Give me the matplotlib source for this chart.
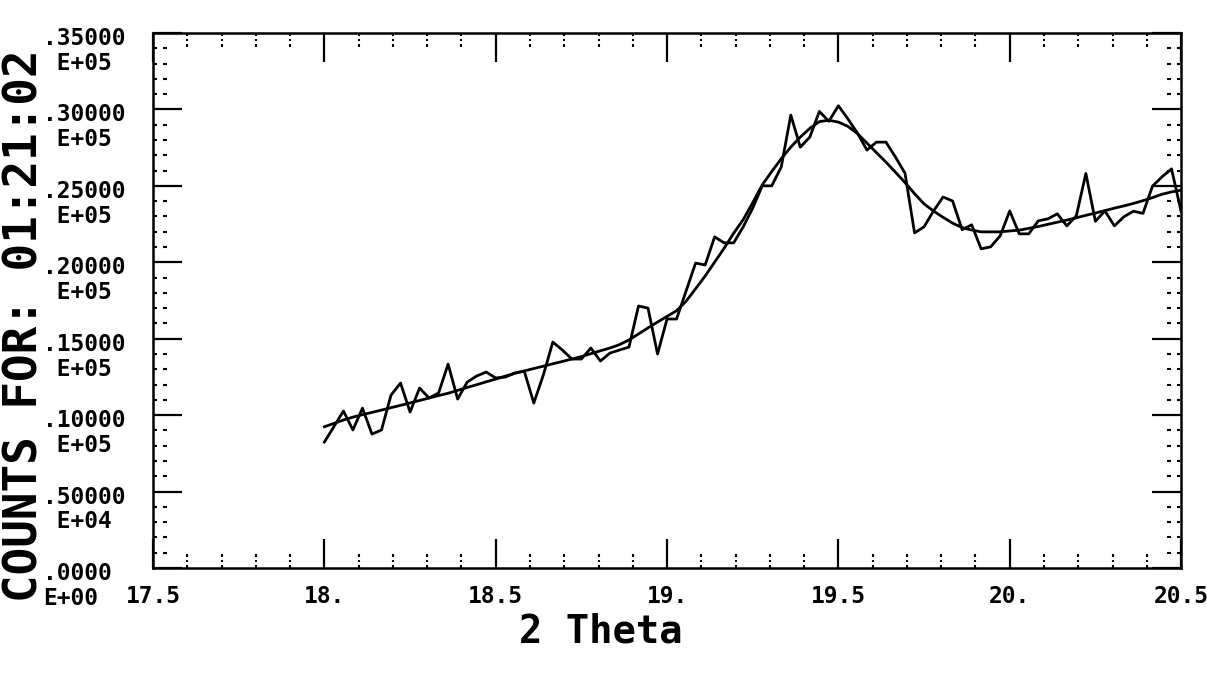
import numpy as np
import matplotlib
matplotlib.use("Agg")
import matplotlib.pyplot as plt
from matplotlib.path import Path
from matplotlib.ticker import FixedLocator, MultipleLocator
from matplotlib.transforms import ScaledTranslation

# scan grid, 18.0 -> 20.5 deg in 91 steps
two_theta = np.linspace(18.0, 20.5, 91)

# measured counts
counts = [8240, 9250, 10270, 9030, 10460, 8760, 9030, 11310, 12100, 10200,
          11770, 11120, 11450, 13340, 11050, 12160, 12560, 12820, 12430, 12490,
          12750, 12880, 10790, 12620, 14780, 14260, 13670, 13670, 14390, 13540,
          14060, 14260, 14450, 17140, 17000, 14000, 16290, 16290, 18120, 19950,
          19820, 21660, 21270, 21270, 22320, 23540, 25000, 25000, 26240, 29630,
          27530, 28190, 29870, 29220, 30240, 29380, 28450, 27340, 27860, 27860,
          26880, 25830, 21920, 22320, 23360, 24270, 24010, 22130, 22450, 20880,
          21010, 21730, 23360, 21860, 21860, 22710, 22840, 23170, 22380, 23040,
          25810, 22680, 23360, 22380, 22980, 23340, 23200, 24980, 25590, 26110,
          23340]

# fitted profile on the same grid
fit = [9240, 9460, 9680, 9870, 10030, 10180, 10330, 10490, 10640, 10800,
       10960, 11120, 11280, 11430, 11620, 11810, 11990, 12180, 12360, 12550,
       12740, 12890, 13050, 13200, 13360, 13510, 13670, 13830, 14020, 14210,
       14390, 14610, 14920, 15310, 15710, 16090, 16460, 16830, 17450, 18270,
       19100, 20010, 20920, 21900, 22790, 23900, 25060, 25940, 26780, 27530,
       28190, 28760, 29200, 29290, 29170, 28890, 28420, 27800, 27170, 26550,
       25890, 25210, 24490, 23820, 23350, 22940, 22560, 22270, 22110, 21990,
       21990, 21990, 22050, 22100, 22220, 22340, 22480, 22620, 22760, 22910,
       23070, 23220, 23380, 23540, 23690, 23850, 24030, 24230, 24450, 24600,
       24720]

x_ticks = [17.5, 18.0, 18.5, 19.0, 19.5, 20.0, 20.5]
x_labels = ["17.5", "18.", "18.5", "19.", "19.5", "20.", "20.5"]
y_ticks = [0, 5000, 10000, 15000, 20000, 25000, 30000, 35000]
y_labels = [".0000\nE+00", ".50000\n E+04", ".10000\n E+05", ".15000\n E+05",
            ".20000\n E+05", ".25000\n E+05", ".30000\n E+05", ".35000\n E+05"]

mono = {"family": "DejaVu Sans Mono", "weight": "bold", "size": 16.5}


def dashed(dx, dy, segs):
    # short broken stroke used as a minor tick marker
    verts, codes = [], []
    for a, b in segs:
        verts += [(a * dx, a * dy), (b * dx, b * dy)]
        codes += [Path.MOVETO, Path.LINETO]
    return Path(verts, codes)


fig = plt.figure(figsize=(12.07, 6.73), dpi=100)
ax = fig.add_axes([0.1268, 0.156, 0.8517, 0.795])

ax.plot(two_theta, counts, color="black", lw=2.0)
ax.plot(two_theta, fit, color="black", lw=2.0)

ax.set_xlim(17.5, 20.5)
ax.set_ylim(0, 35000)

ax.xaxis.set_major_locator(FixedLocator(x_ticks))
ax.xaxis.set_minor_locator(MultipleLocator(0.1))
ax.yaxis.set_major_locator(FixedLocator(y_ticks))
ax.yaxis.set_minor_locator(MultipleLocator(1000))
ax.set_xticklabels(x_labels, fontdict=mono)
ax.set_yticklabels(y_labels, fontdict=mono)

for s in ax.spines.values():
    s.set_linewidth(1.8)

ax.tick_params(which="major", direction="in", length=21, width=1.6,
               top=True, right=True, color="black")
ax.tick_params(which="minor", direction="in", length=20, width=1.5,
               top=True, right=True, color="black")
ax.tick_params(axis="x", which="major", pad=12)
ax.tick_params(axis="y", which="major", pad=79)

# value on the first line, exponent underneath; nudge the block up a little
lift = ScaledTranslation(0, 0.06, fig.dpi_scale_trans)
for lab in ax.get_yticklabels():
    lab.set_horizontalalignment("left")
    lab.set_multialignment("left")
    lab.set_verticalalignment("top")
    lab.set_linespacing(1.1)
    lab.set_transform(lab.get_transform() + lift)

# dotted minor ticks
x_in = dashed(0, 1, [(0.0, 0.2), (0.4, 0.6), (0.8, 1.0)])
x_top = dashed(0, -1, [(0.0, 0.2), (0.4, 0.6), (0.8, 1.0)])
y_in = dashed(1, 0, [(0.05, 0.3), (0.7, 0.95)])
y_right = dashed(-1, 0, [(0.05, 0.3), (0.7, 0.95)])
for t in ax.xaxis.get_minor_ticks():
    t.tick1line.set_marker(x_in)
    t.tick2line.set_marker(x_top)
for t in ax.yaxis.get_minor_ticks():
    t.tick1line.set_marker(y_in)
    t.tick2line.set_marker(y_right)

fig.text(0.021, 0.516, "COUNTS FOR: 01:21:02", rotation=90, ha="center",
         va="center", family="DejaVu Sans Mono", weight="bold", size=33)
fig.text(0.498, 0.061, "2 Theta", ha="center", va="center",
         family="DejaVu Sans Mono", weight="bold", size=28)

fig.savefig("out.png", dpi=100)
